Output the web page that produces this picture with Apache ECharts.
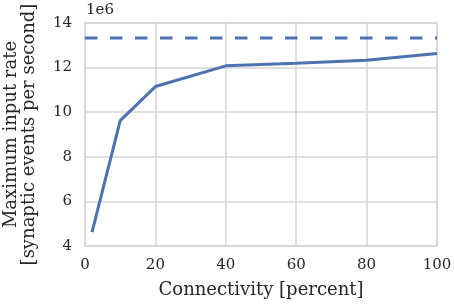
<!DOCTYPE html>
<html>
<head>
<meta charset="utf-8">
<script src="https://cdn.jsdelivr.net/npm/echarts@6/dist/echarts.min.js"></script>
<style>
html,body{margin:0;padding:0;background:#fff;}
#chart_container{width:454px;height:306px;}
</style>
</head>
<body>
<div id="chart_container"></div>
<script>
// connectivity in percent, max rate in events per second
var connectivity = [2, 10, 20, 40, 60, 80, 100];
var maxRate = [4.62e6, 9.62e6, 11.15e6, 12.08e6, 12.2e6, 12.33e6, 12.63e6];
var limitX = [0, 100];
var limitRate = 13.33e6;
var xTicks = [0, 20, 40, 60, 80, 100];
var yTicks = [4, 6, 8, 10, 12, 14]; // in units of 1e6

var font = "DejaVu Serif";
var textColor = "#262626";
var gridColor = "#d5d5d5";
var lineColor = "#4c72b0";

function pairs(xs, ys) {
	var out = [];
	for (var i = 0; i < xs.length; i++) {
		out.push([xs[i], ys[i]]);
	}
	return out;
}

var chart = echarts.init(document.getElementById('chart_container'), null, {renderer: 'canvas'});

var option = {
	animation: false,
	backgroundColor: '#ffffff',
	grid: {
		left: 85, right: 17, top: 23, bottom: 60,
		outerBoundsMode: 'none',
		containLabel: false,
		show: true,
		borderColor: gridColor,
		borderWidth: 1.5
	},
	graphic: [{
		type: 'text',
		left: 86,
		top: 3,
		style: {text: '1e6', font: '15px "' + font + '"', fill: textColor}
	}],
	xAxis: {
		type: 'value',
		min: xTicks[0],
		max: xTicks[xTicks.length - 1],
		interval: 20,
		name: 'Connectivity [percent]',
		nameLocation: 'middle',
		nameGap: 35,
		nameTextStyle: {fontFamily: font, fontSize: 18, color: textColor},
		axisLine: {show: false},
		axisTick: {show: false},
		axisLabel: {fontFamily: font, fontSize: 15, color: textColor, margin: 12},
		splitLine: {lineStyle: {color: gridColor, width: 1.5}}
	},
	yAxis: {
		type: 'value',
		min: yTicks[0] * 1e6,
		max: yTicks[yTicks.length - 1] * 1e6,
		interval: 2e6,
		name: 'Maximum input rate\n[synaptic events per second]',
		nameLocation: 'middle',
		nameRotate: 90,
		nameGap: 47,
		nameTextStyle: {fontFamily: font, fontSize: 18, color: textColor, lineHeight: 18},
		axisLine: {show: false},
		axisTick: {show: false},
		axisLabel: {
			fontFamily: font, fontSize: 15, color: textColor, margin: 13,
			formatter: function (v) { return String(Math.round(v / 1e6)); }
		},
		splitLine: {lineStyle: {color: gridColor, width: 1.5}}
	},
	series: [{
		type: 'line',
		data: pairs(connectivity, maxRate),
		showSymbol: false,
		lineStyle: {color: lineColor, width: 3},
		z: 3
	}, {
		type: 'line',
		data: pairs(limitX, [limitRate, limitRate]),
		showSymbol: false,
		lineStyle: {color: lineColor, width: 3, type: [12.5, 12.5], cap: 'butt'},
		z: 3
	}]
};
chart.setOption(option);
</script>
</body>
</html>
